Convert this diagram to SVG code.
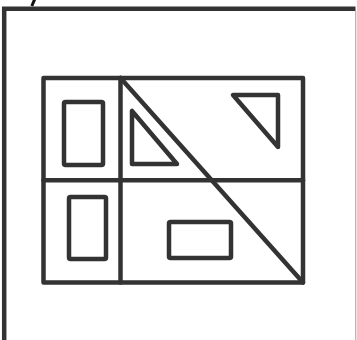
<svg xmlns="http://www.w3.org/2000/svg" width="357" height="340" viewBox="0 0 357 340">
<style>
.s{fill:none;stroke:#333333;stroke-width:4.5;stroke-linejoin:round;stroke-linecap:round}
.f{fill:none;stroke:#333333;stroke-width:4.5}
</style>
<rect width="357" height="340" fill="#ffffff"/>
<g id="frame">
<path class="f" d="M4.2,340 V8.8 H355.5"/>
<line x1="355.7" y1="11" x2="355.7" y2="340" stroke="#b0b0b0" stroke-width="1.2"/>
<line x1="34.8" y1="-1" x2="31.8" y2="6" stroke="#111111" stroke-width="3"/>
</g>
<g id="grid">
<rect class="s" x="43.5" y="78" width="259.5" height="204.5"/>
<line class="s" x1="120.5" y1="78" x2="120.5" y2="282.5"/>
<line class="s" x1="43.5" y1="180.3" x2="303" y2="180.3"/>
</g>
<g id="connectors">
<line class="s" x1="120.5" y1="78" x2="303" y2="282.5"/>
</g>
<g id="rect-top-left"><rect class="s" x="64" y="102" width="39" height="63" rx="1.5"/></g>
<g id="rect-bottom-left"><rect class="s" x="69" y="197" width="37" height="62" rx="1.5"/></g>
<g id="rect-bottom-right"><rect class="s" x="169" y="222" width="62" height="36" rx="1.5"/></g>
<g id="triangle-left"><polygon class="s" points="132,111 132,164 177,164"/></g>
<g id="triangle-right"><polygon class="s" points="233,95 278,95 278,147"/></g>
</svg>
